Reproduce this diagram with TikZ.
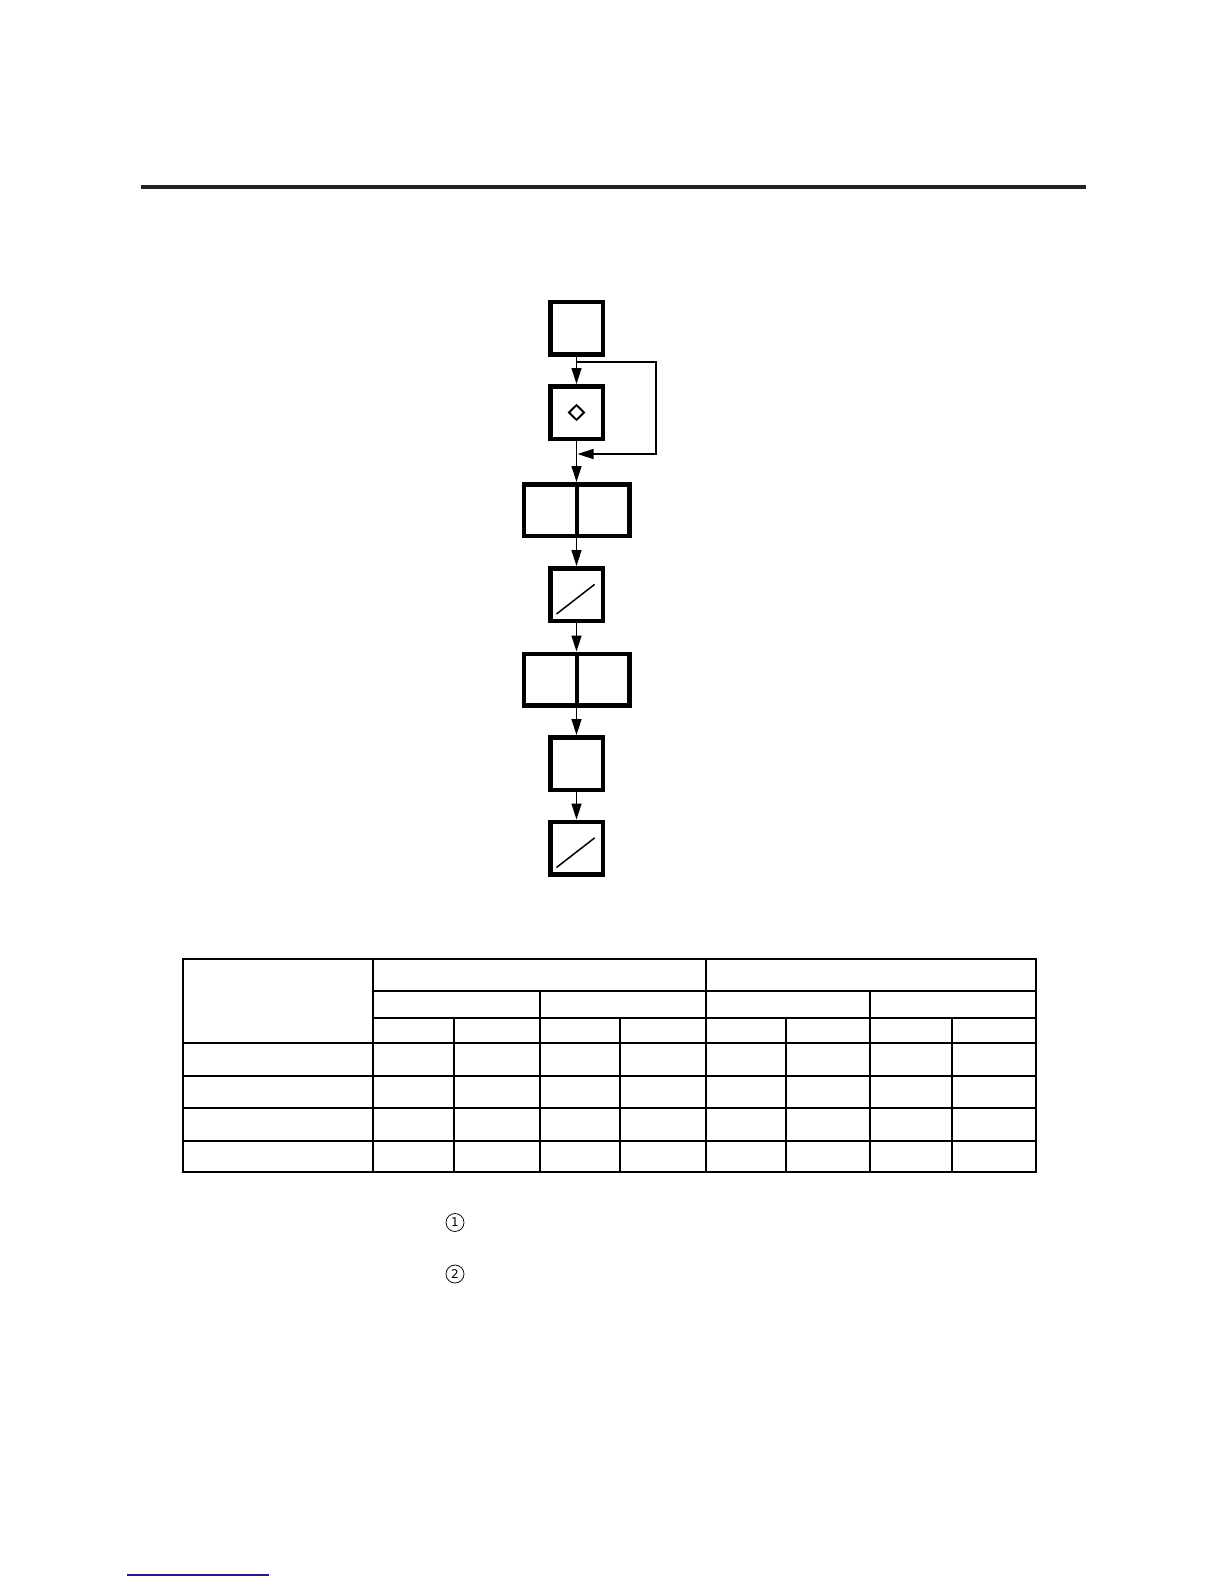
\documentclass[tikz,border=0pt]{standalone}
\usepackage{fontspec}
\setsansfont{DejaVu Sans}
\usetikzlibrary{arrows.meta,shapes.geometric}
\definecolor{rulegray}{RGB}{34,34,34}
\definecolor{linkblue}{RGB}{28,28,140}
\tikzset{
  fbox/.style={draw, line width=4.5pt, minimum width=52.5pt, minimum height=52.5pt, inner sep=0pt},
  wbox/.style={draw, line width=4.5pt, minimum width=105.5pt, minimum height=51.5pt, inner sep=0pt},
  conn/.style={line width=1.5pt, -{Triangle[length=16pt,width=10pt]}},
  slashline/.style={line width=1.5pt},
  tline/.style={line width=2pt},
  cnum/.style={circle, draw, line width=0.75pt, minimum size=18pt, inner sep=0pt, font=\sffamily\fontsize{12}{12}\selectfont},
}
\begin{document}
\begin{tikzpicture}[x=1pt,y=-1pt]
\useasboundingbox (0,0) rectangle (1224,1584);
% top rule
\fill[rulegray] (141,185) rectangle (1086,189);

% flowchart
\node[fbox] (b1) at (576.5,328) {};
\node[fbox] (b2) at (576.5,412.5) {};
\node[wbox] (w1) at (576.5,510) {};
\node[fbox] (s1) at (576.5,594.5) {};
\node[wbox] (w2) at (576.5,679.5) {};
\node[fbox] (b6) at (576.5,763.5) {};
\node[fbox] (s2) at (576.5,848) {};

\node[diamond, draw, line width=1.9pt, minimum width=16pt, minimum height=15.5pt, inner sep=0pt] (dm) at (b2.center) {};
\draw[line width=4pt] (w1.north) -- (w1.south);
\draw[line width=4pt] (w2.north) -- (w2.south);
\draw[slashline] ([shift={(-20,19.5)}]s1.center) -- ([shift={(18.2,-10.2)}]s1.center);
\draw[slashline] ([shift={(-20,19.5)}]s2.center) -- ([shift={(18.2,-10.2)}]s2.center);

\draw[conn] (b1.south) -- (b2.north);
\draw[conn] (b2.south) -- (w1.north);
\draw[conn] (w1.south) -- (s1.north);
\draw[conn] (s1.south) -- (w2.north);
\draw[conn] (w2.south) -- (b6.north);
\draw[conn] (b6.south) -- (s2.north);

\coordinate (lp1) at (576.5,362);
\coordinate (lp2) at (656,362);
\coordinate (lp3) at (656,454);
\coordinate (lp4) at (577.5,454);
\draw[conn] (lp1) -- (lp2) -- (lp3) -- (lp4);

% table
\draw[tline] (183.3,958.7) rectangle (1035.5,1172.3);
\foreach \yy in {991,1018} \draw[tline] (373,\yy) -- (1035.5,\yy);
\foreach \yy in {1043,1076,1107.5,1140.5} \draw[tline] (183.3,\yy) -- (1035.5,\yy);
\foreach \xx in {373,705.5} \draw[tline] (\xx,958.7) -- (\xx,1172.3);
\foreach \xx in {540,870} \draw[tline] (\xx,991) -- (\xx,1172.3);
\foreach \xx in {454,620,786,952} \draw[tline] (\xx,1018) -- (\xx,1172.3);

% circled numbers
\node[cnum] (n1) at (455,1222.5) {1};
\node[cnum] (n2) at (455,1274) {2};

% bottom blue line
\draw[line width=1.4pt, linkblue] (127,1575) -- (269,1575);
\end{tikzpicture}
\end{document}
